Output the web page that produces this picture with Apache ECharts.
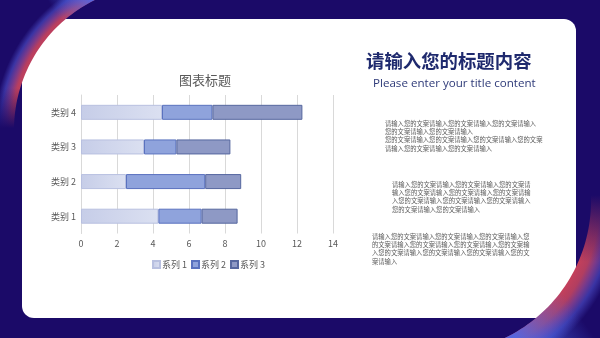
<!DOCTYPE html>
<html><head><meta charset="utf-8">
<script src="https://cdn.jsdelivr.net/npm/echarts@6/dist/echarts.min.js"></script>
<style>html,body{margin:0;padding:0;background:#1b0a68}#c{width:600px;height:338px}</style>
</head><body><div id="c"></div>
<script>
var categories = ['类别 1', '类别 2', '类别 3', '类别 4'];
var seriesNames = ['系列 1', '系列 2', '系列 3'];
var series1 = [4.3, 2.5, 3.5, 4.5];
var series2 = [2.4, 4.4, 1.8, 2.8];
var series3 = [2, 2, 3, 5];
var xTicks = [0, 2, 4, 6, 8, 10, 12, 14];
var chartTitle = '图表标题';
var headTitle = '请输入您的标题内容';
var headSub = 'Please enter your title content';
var para1 = ['请输入您的文案请输入您的文案请输入您的文案请输入', '您的文案请输入您的文案请输入', '您的文案请输入您的文案请输入您的文案请输入您的文案', '请输入您的文案请输入您的文案请输入'];
var para2 = ['请输入您的文案请输入您的文案请输入您的文案请', '输入您的文案请输入您的文案请输入您的文案请输', '入您的文案请输入您的文案请输入您的文案请输入', '您的文案请输入您的文案请输入'];
var para3 = ['请输入您的文案请输入您的文案请输入您的文案请输入您', '的文案请输入您的文案请输入您的文案请输入您的文案输', '入您的文案请输入您的文案请输入您的文案请输入您的文', '案请输入'];

var NAVY = '#1b0a68';
function arcPts(cx, cy, r, a0, a1, n) {
  var p = [];
  for (var i = 0; i <= n; i++) {
    var a = a0 + (a1 - a0) * i / n;
    p.push([cx + r * Math.cos(a), cy + r * Math.sin(a)]);
  }
  return p;
}
// top-left swoosh region (outside circle)
var tlC = [159, 130], tlR = 145;
var tlA0 = Math.atan2(0 - 130, 94.8 - 159), tlA1 = Math.atan2(128 - 130, 14 - 159);
if (tlA1 > 0) tlA1 -= 2 * Math.PI;
var tlPts = [[0, 0], [100, 0]].concat(arcPts(tlC[0], tlC[1], tlR, tlA0, tlA1, 40)).concat([[0, 128]]);
// bottom-right swoosh region
var brC = [439, 201], brR = 152;
var brA0 = -0.05, brA1 = Math.atan2(137, Math.sqrt(brR * brR - 137 * 137));
var brArc = arcPts(brC[0], brC[1], brR, brA0, brA1, 40);
var brPts = [[600, brArc[0][1]]].concat(brArc).concat([[500, 338], [600, 338]]);

function radial(cx, cy, r, stops) {
  return { type: 'radial', x: cx, y: cy, r: r, global: true, colorStops: stops };
}
function lin(x, y, x2, y2, stops) {
  return { type: 'linear', x: x, y: y, x2: x2, y2: y2, global: true, colorStops: stops };
}

var chart = echarts.init(document.getElementById('c'), null, { renderer: 'canvas' });
var mk = function (name, data, color, border) {
  return {
    name: name, type: 'bar', stack: 'total', data: data, barWidth: 15,
    itemStyle: { color: color, borderColor: border, borderWidth: 1 }
  };
};
function textEl(x, y, lines) {
  return {
    type: 'text', left: x, top: y, z: 10,
    style: { text: lines.join('\n'), fill: '#595959', fontSize: 6.3, lineHeight: 8.2, fontFamily: 'Noto Sans CJK SC' }
  };
}
chart.setOption({
  animation: false,
  backgroundColor: NAVY,
  graphic: [
    { type: 'rect', z: -10, shape: { x: 22, y: 19, width: 554, height: 299, r: 12 }, style: { fill: '#ffffff' } },
    { type: 'polygon', z: -5, shape: { points: tlPts }, style: { fill: radial(tlC[0], tlC[1], 200, [
      { offset: 0.71, color: '#c4405b' }, { offset: 0.74, color: '#b83e5f' }, { offset: 0.765, color: '#7a3a8a' }, { offset: 0.795, color: '#3a34a4' }, { offset: 0.825, color: NAVY }, { offset: 1, color: NAVY }]) } },
    { type: 'polygon', z: -4, shape: { points: tlPts }, style: { fill: lin(95, 0, 62, 22, [
      { offset: 0, color: 'rgba(75,105,235,0.95)' }, { offset: 1, color: 'rgba(75,105,235,0)' }]) } },
    { type: 'rect', z: -3, shape: { x: 0, y: 80, width: 22, height: 50 }, style: { fill: lin(0, 88, 0, 128, [
      { offset: 0, color: 'rgba(27,10,104,0)' }, { offset: 1, color: 'rgba(27,10,104,1)' }]) } },
    { type: 'polygon', z: -5, shape: { points: brPts }, style: { fill: radial(brC[0], brC[1], 200, [
      { offset: 0.76, color: '#c4405b' }, { offset: 0.805, color: '#b23e60' }, { offset: 0.84, color: '#7a3a8a' }, { offset: 0.88, color: '#3a34a4' }, { offset: 0.93, color: NAVY }, { offset: 1, color: NAVY }]) } },
    { type: 'polygon', z: -4, shape: { points: brPts }, style: { fill: lin(515, 338, 568, 300, [
      { offset: 0, color: 'rgba(75,105,235,0.9)' }, { offset: 1, color: 'rgba(75,105,235,0)' }]) } },
    { type: 'rect', z: -3, shape: { x: 576, y: 150, width: 24, height: 120 }, style: { fill: lin(0, 195, 0, 262, [
      { offset: 0, color: 'rgba(27,10,104,1)' }, { offset: 1, color: 'rgba(27,10,104,0)' }]) } },
    { type: 'text', left: 366, top: 52, z: 10, style: { text: headTitle, fill: '#1f2a6e', fontSize: 18.4, fontWeight: 'bold', fontFamily: 'Noto Sans CJK SC' } },
    { type: 'text', left: 373, top: 78, z: 10, style: { text: headSub, fill: '#2e3a78', fontSize: 11.6, fontFamily: 'Open Sans' } },
    textEl(385, 119.5, para1),
    textEl(392, 180.5, para2),
    textEl(372, 232.5, para3)
  ],
  title: {
    text: chartTitle, left: 200, top: 69, textAlign: 'center',
    textStyle: { fontSize: 13, fontWeight: 'normal', color: '#595959', fontFamily: 'Noto Sans CJK SC' }
  },
  legend: {
    data: seriesNames, left: 147, top: 255, itemWidth: 7, itemHeight: 7, itemGap: 4, icon: 'rect',
    textStyle: { fontSize: 9, color: '#595959', fontFamily: 'Noto Sans CJK SC', padding: [0, 0, 0, -3] }
  },
  grid: { left: 81, right: 267, top: 95, bottom: 104.5, containLabel: false },
  xAxis: {
    type: 'value', min: xTicks[0], max: xTicks[xTicks.length - 1], interval: 2,
    axisLine: { show: false }, axisTick: { show: false },
    splitLine: { lineStyle: { color: '#d9d9d9', width: 1 } },
    axisLabel: { fontSize: 9, color: '#595959', margin: 6, fontFamily: 'Noto Sans CJK SC' }
  },
  yAxis: {
    type: 'category', data: categories,
    axisLine: { lineStyle: { color: '#d9d9d9' } }, axisTick: { show: false },
    axisLabel: { fontSize: 9, color: '#595959', margin: 5, fontFamily: 'Noto Sans CJK SC' }
  },
  series: [
    mk(seriesNames[0], series1, { type: 'linear', x: 0, y: 0, x2: 1, y2: 0, colorStops: [{ offset: 0, color: '#c6cde8' }, { offset: 1, color: '#dbe0f1' }] }, '#b8c0e0'),
    mk(seriesNames[1], series2, '#8fa3dc', '#5a72bf'),
    mk(seriesNames[2], series3, '#8e99c5', '#56679f')
  ]
});
</script></body></html>
